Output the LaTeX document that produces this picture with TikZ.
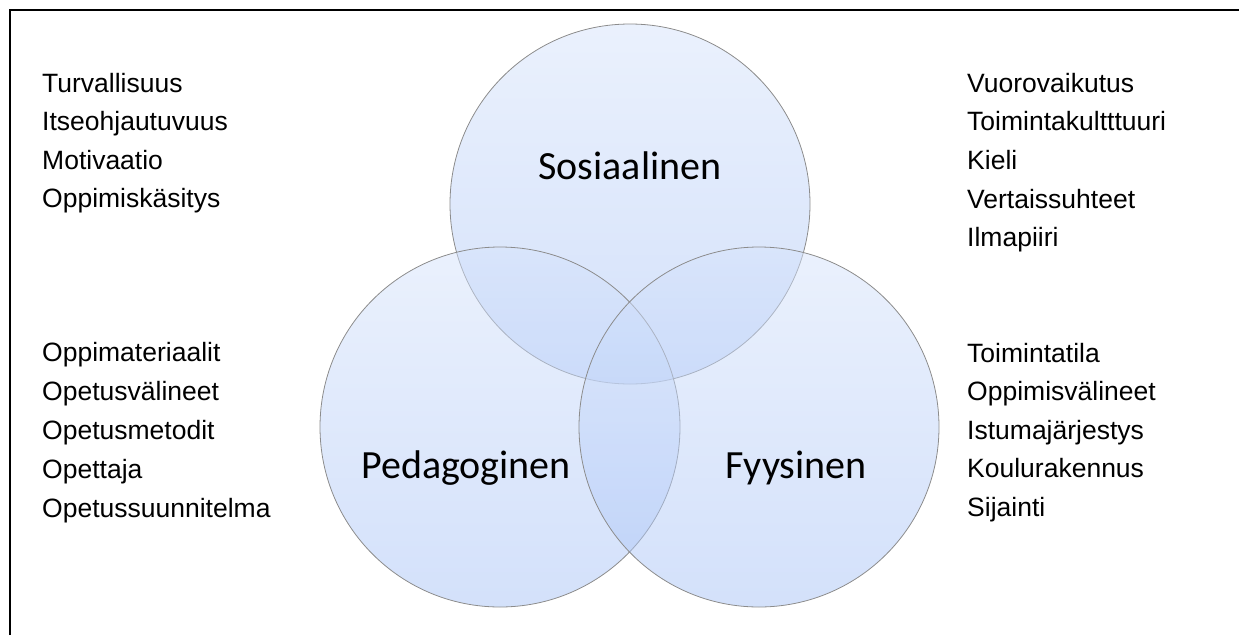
\documentclass[tikz,border=0pt]{standalone}
\usepackage{fontspec}
\setmainfont{Liberation Sans}
\newfontfamily\calibri{Carlito}
\definecolor{venntop}{RGB}{214,227,251}
\definecolor{vennbot}{RGB}{168,195,246}
\definecolor{venndraw}{RGB}{140,140,140}

\begin{document}
\begin{tikzpicture}[x=1pt, y=-1pt,
    venn/.style = {circle, draw=venndraw, line width=0.8pt,
        minimum size=360pt, inner sep=0pt,
        top color=venntop, bottom color=vennbot, fill opacity=0.5},
    title/.style = {font=\calibri\fontsize{40}{48}\selectfont,
        anchor=base, inner sep=0pt},
    item/.style = {font=\fontsize{26.5}{32}\selectfont,
        anchor=base west, inner sep=0pt}]
\useasboundingbox (0,0) rectangle (1239,635);
\draw[line width=2pt] (10,635) -- (10,10) -- (1239,10);

% circles
\node[venn] (sos) at (630,204) {};
\node[venn] (ped) at (500,427) {};
\node[venn] (fyy) at (759,427) {};

\node[title] (sostext) at (630,179) {Sosiaalinen};
\node[title] (pedtext) at (466,478) {Pedagoginen};
\node[title] (fyytext) at (796,478) {Fyysinen};

% lists
\foreach \t [count=\i from 0] in {Turvallisuus, Itseohjautuvuus,
    Motivaatio, Oppimiskäsitys}
    \node[item] (tl\i) at (42,92+38.5*\i) {\t};
\foreach \t [count=\i from 0] in {Vuorovaikutus, Toimintakultttuuri,
    Kieli, Vertaissuhteet, Ilmapiiri}
    \node[item] (tr\i) at (967,92+38.7*\i) {\t};
\foreach \t [count=\i from 0] in {Oppimateriaalit, Opetusvälineet,
    Opetusmetodit, Opettaja, Opetussuunnitelma}
    \node[item] (bl\i) at (42,361+39*\i) {\t};
\foreach \t [count=\i from 0] in {Toimintatila, Oppimisvälineet,
    Istumajärjestys, Koulurakennus, Sijainti}
    \node[item] (br\i) at (967,362+38.6*\i) {\t};
\end{tikzpicture}
\end{document}
